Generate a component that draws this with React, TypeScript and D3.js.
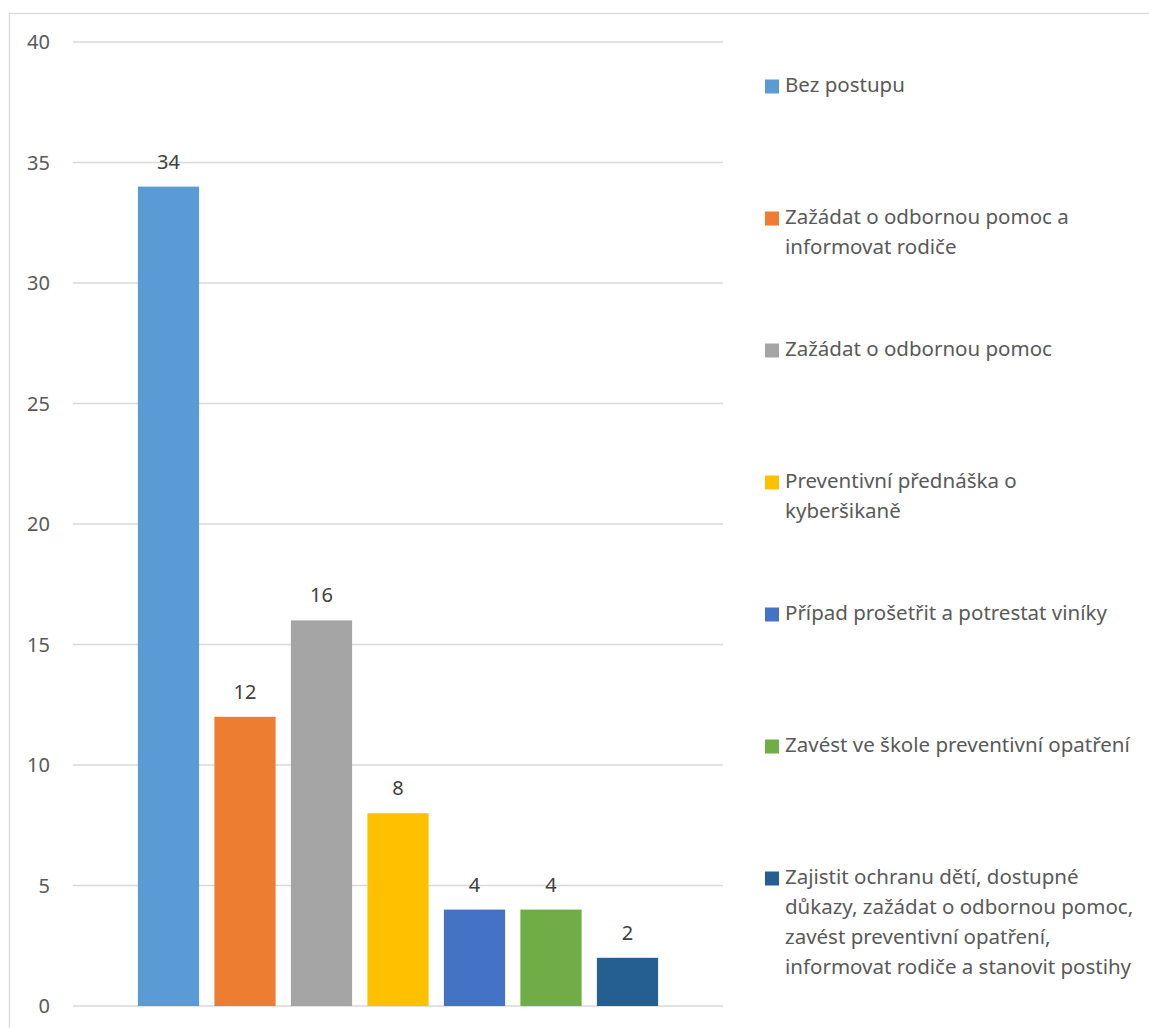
import React from "react";
import * as d3 from "d3";

const seriesNames = [
  "Bez postupu",
  "Zažádat o odbornou pomoc a\ninformovat rodiče",
  "Zažádat o odbornou pomoc",
  "Preventivní přednáška o\nkyberšikaně",
  "Případ prošetřit a potrestat viníky",
  "Zavést ve škole preventivní opatření",
  "Zajistit ochranu dětí, dostupné\ndůkazy, zažádat o odbornou pomoc,\nzavést preventivní opatření,\ninformovat rodiče a stanovit postihy",
];
const seriesValues = [34, 12, 16, 8, 4, 4, 2];
const seriesColors = ["#5B9BD5", "#ED7D31", "#A5A5A5", "#FFC000", "#4472C4", "#70AD47", "#255E91"];
const yTicks = [0, 5, 10, 15, 20, 25, 30, 35, 40];

const W = 1149;
const H = 1028;
const FONT = "'Noto Sans', 'Open Sans', sans-serif";

export default function App() {
  const y = d3.scaleLinear().domain([0, 40]).range([1006, 42]);
  const idx = seriesValues.map((_, i) => String(i));
  const x = d3.scaleBand<string>().domain(idx).range([130.25, 665.75]).paddingInner(0.2).paddingOuter(0.1);
  const legendY = d3.scaleLinear().domain([0, 6]).range([92, 884]);

  return (
    <svg width={W} height={H} style={{ position: "absolute", left: 0, top: 0, background: "#fff" }} fontFamily={FONT}>
      <rect x={0} y={0} width={W} height={H} fill="#fff" />
      <rect x={9.5} y={13.5} width={W + 20} height={H + 20} fill="none" stroke="#d9d9d9" strokeWidth={1.3} />
      {yTicks.map((t) => (
        <g key={t}>
          <line x1={73} x2={723} y1={y(t)} y2={y(t)} stroke="#d9d9d9" strokeWidth={1.3} />
          <text x={50} y={y(t) + 7} textAnchor="end" fontSize={20} fill="#595959">
            {t}
          </text>
        </g>
      ))}
      {seriesValues.map((v, i) => {
        const bx = x(String(i))!;
        const bw = x.bandwidth();
        return (
          <g key={i}>
            <rect x={bx} y={y(v)} width={bw} height={y(0) - y(v)} fill={seriesColors[i]} />
            <text x={bx + bw / 2} y={y(v) - 18} textAnchor="middle" fontSize={20} fill="#404040">
              {v}
            </text>
          </g>
        );
      })}
      {seriesNames.map((name, i) => {
        const by = legendY(i);
        const lines = name.split("\n");
        return (
          <g key={i}>
            <rect x={765} y={by - 12.5} width={14} height={14} fill={seriesColors[i]} />
            {lines.map((ln, j) => (
              <text key={j} x={785} y={by + j * 30} fontSize={20.5} fill="#595959">
                {ln}
              </text>
            ))}
          </g>
        );
      })}
    </svg>
  );
}
